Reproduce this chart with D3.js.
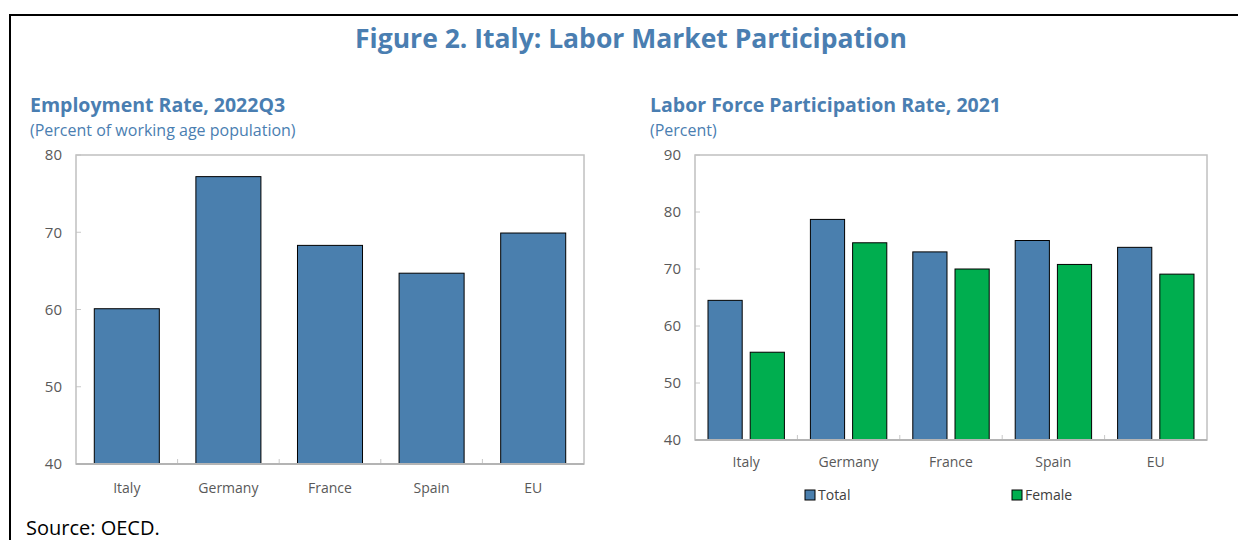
<!DOCTYPE html>
<html>
<head>
<meta charset="utf-8">
<script src="https://cdn.jsdelivr.net/npm/d3@7"></script>
<style>
body { margin: 0; background: #fff; }
text { font-family: "Open Sans", "Noto Sans", sans-serif; }
</style>
</head>
<body>
<script>
var countries = ["Italy", "Germany", "France", "Spain", "EU"];
var employment = [60.1, 77.2, 68.3, 64.7, 69.9];
var lfpTotal = [64.5, 78.7, 73.0, 75.0, 73.8];
var lfpFemale = [55.4, 74.6, 70.0, 70.8, 69.1];
var seriesNames = ["Total", "Female"];
var empTicks = [40, 50, 60, 70, 80];
var lfpTicks = [40, 50, 60, 70, 80, 90];

var Blue = "#4a7fae";
var Green = "#00ae4f";
var TitleBlue = "#4a7eb1";
var Grey = "#595959";

var svg = d3.select("body")
	.append("svg")
	.attr("width", 1238)
	.attr("height", 540)

// outer frame (only top and left edges are visible)
svg.append("path")
	.attr("d", "M10,560 V15 H1260")
	.attr("fill", "none")
	.attr("stroke", "black")
	.attr("stroke-width", 2)

svg.append("text")
	.attr("x", 631)
	.attr("y", 48)
	.attr("text-anchor", "middle")
	.attr("font-size", "26.5px")
	.attr("font-weight", "bold")
	.attr("fill", TitleBlue)
	.text("Figure 2. Italy: Labor Market Participation")

function heading(x, title, sub) {
	svg.append("text")
		.attr("x", x).attr("y", 112)
		.attr("font-size", "19.5px")
		.attr("font-weight", "bold")
		.attr("fill", TitleBlue)
		.text(title)
	svg.append("text")
		.attr("x", x).attr("y", 136)
		.attr("font-size", "16px")
		.attr("fill", TitleBlue)
		.text(sub)
}
heading(30, "Employment Rate, 2022Q3", "(Percent of working age population)")
heading(650, "Labor Force Participation Rate, 2021", "(Percent)")

svg.append("text")
	.attr("x", 26)
	.attr("y", 535)
	.attr("font-size", "20px")
	.attr("fill", "black")
	.text("Source: OECD.")

// ticks and labels for one panel
function frame(x, y, ticks, left, right, top, bottom, labelY) {
	var g = svg.append("g")
	g.selectAll(".yt").data(ticks).enter()
		.append("line")
		.attr("x1", left).attr("x2", left + 5)
		.attr("y1", d => y(d)).attr("y2", d => y(d))
		.attr("stroke", "#c8c8c8")
	g.selectAll(".yl").data(ticks).enter()
		.append("text")
		.attr("x", left - 14)
		.attr("y", d => y(d))
		.attr("dy", "0.35em")
		.attr("text-anchor", "end")
		.attr("font-size", "15px")
		.attr("fill", Grey)
		.text(d => d)
	g.selectAll(".xt").data(countries.slice(1)).enter()
		.append("line")
		.attr("x1", d => x(d)).attr("x2", d => x(d))
		.attr("y1", bottom).attr("y2", bottom - 5)
		.attr("stroke", "#c8c8c8")
	g.selectAll(".xl").data(countries).enter()
		.append("text")
		.attr("x", d => x(d) + x.step() / 2)
		.attr("y", labelY)
		.attr("text-anchor", "middle")
		.attr("font-size", "14px")
		.attr("fill", Grey)
		.text(d => d)
	return g
}

function box(left, right, top, bottom) {
	svg.append("rect")
		.attr("x", left).attr("y", top)
		.attr("width", right - left).attr("height", bottom - top)
		.attr("fill", "none")
		.attr("stroke", "#c0c0c0")
		.attr("stroke-width", 1.5)
	svg.append("line")
		.attr("x1", left).attr("x2", right)
		.attr("y1", bottom).attr("y2", bottom)
		.attr("stroke", "#b4b4b4")
		.attr("stroke-width", 2)
}

// left panel
var x1 = d3.scaleBand().domain(countries).range([76, 584]);
var y1 = d3.scaleLinear().domain([40, 80]).range([464, 155]);
frame(x1, y1, empTicks, 76, 584, 155, 464, 493)

svg.selectAll(".emp").data(countries).enter()
	.append("rect")
	.attr("x", (d, i) => x1(d) + x1.step() * 0.18)
	.attr("width", x1.step() * 0.64)
	.attr("y", (d, i) => y1(employment[i]))
	.attr("height", (d, i) => y1(40) - y1(employment[i]))
	.attr("fill", Blue)
	.attr("stroke", "black")
	.attr("stroke-width", 1)
box(76, 584, 155, 464)

// right panel
var x2 = d3.scaleBand().domain(countries).range([695, 1207]);
var xs = d3.scaleBand().domain(seriesNames).range([13, x2.step() - 13]).paddingInner(0.19);
var y2 = d3.scaleLinear().domain([40, 90]).range([440, 155]);
frame(x2, y2, lfpTicks, 695, 1207, 155, 440, 467)

var pairs = [];
countries.forEach(function(c, i) {
	pairs.push({c: c, s: "Total", v: lfpTotal[i]});
	pairs.push({c: c, s: "Female", v: lfpFemale[i]});
});
svg.selectAll(".lfp").data(pairs).enter()
	.append("rect")
	.attr("x", d => x2(d.c) + xs(d.s))
	.attr("width", xs.bandwidth())
	.attr("y", d => y2(d.v))
	.attr("height", d => y2(40) - y2(d.v))
	.attr("fill", d => d.s == "Total" ? Blue : Green)
	.attr("stroke", "black")
	.attr("stroke-width", 1)
box(695, 1207, 155, 440)

// legend
var legendX = [805, 1012];
seriesNames.forEach(function(s, i) {
	svg.append("rect")
		.attr("x", legendX[i]).attr("y", 490)
		.attr("width", 10).attr("height", 10)
		.attr("fill", i == 0 ? Blue : Green)
		.attr("stroke", "black")
	svg.append("text")
		.attr("x", legendX[i] + 13).attr("y", 500)
		.attr("font-size", "14px")
		.attr("fill", "#404040")
		.text(s)
});
</script>
</body>
</html>
